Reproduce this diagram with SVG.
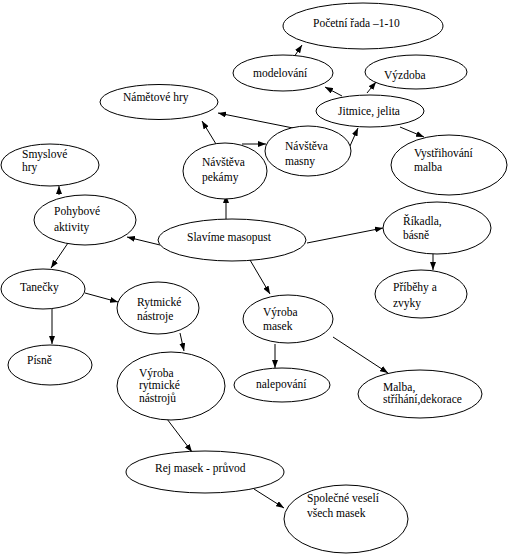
<svg xmlns="http://www.w3.org/2000/svg" width="508" height="555" viewBox="0 0 508 555" font-family="Liberation Serif" font-size="11.5">
<style>
.n ellipse{fill:#fff;stroke:#000;stroke-width:1}
text{font-family:'Liberation Serif','Times New Roman',serif;font-size:11.5px;fill:#000}
.c line{stroke:#000;stroke-width:1;marker-end:url(#ah)}
</style>
<defs>
<marker id="ah" markerWidth="8" markerHeight="6" refX="8" refY="3" orient="auto" markerUnits="userSpaceOnUse">
<path d="M0,0 L8,3 L0,6 z" fill="#000"/>
</marker>
</defs>
<rect width="508" height="555" fill="#fff"/>
<g class="c" id="connectors">
<line x1="294" y1="57" x2="302" y2="45"/>
<line x1="342" y1="96" x2="325" y2="87"/>
<line x1="367" y1="93" x2="376" y2="82"/>
<line x1="400" y1="127" x2="424" y2="137"/>
<line x1="350" y1="146" x2="358" y2="128"/>
<line x1="293" y1="128" x2="218" y2="113"/>
<line x1="242" y1="144" x2="266" y2="144"/>
<line x1="216" y1="144" x2="202" y2="121"/>
<line x1="226" y1="219" x2="226" y2="195"/>
<line x1="160" y1="245" x2="127" y2="237"/>
<line x1="59" y1="195" x2="59" y2="186"/>
<line x1="68" y1="243" x2="51" y2="268"/>
<line x1="250" y1="260" x2="270" y2="294"/>
<line x1="307" y1="243" x2="383" y2="228"/>
<line x1="433" y1="253" x2="433" y2="270"/>
<line x1="52" y1="309" x2="52" y2="344"/>
<line x1="85" y1="293" x2="118" y2="302"/>
<line x1="180" y1="333" x2="184" y2="351"/>
<line x1="275" y1="344" x2="275" y2="368"/>
<line x1="333" y1="337" x2="388" y2="373"/>
<line x1="167" y1="419" x2="192" y2="452"/>
<line x1="254" y1="489" x2="284" y2="508"/>
</g>
<g class="n" id="pocetni"><ellipse cx="363" cy="26" rx="80" ry="23"/><text x="313" y="27">Početní řada –1-10</text></g>
<g class="n" id="modelovani"><ellipse cx="283" cy="73" rx="50" ry="18"/><text x="253" y="77">modelování</text></g>
<g class="n" id="vyzdoba"><ellipse cx="416" cy="72" rx="51" ry="17"/><text x="384" y="79">Výzdoba</text></g>
<g class="n" id="jitmice"><ellipse cx="370" cy="111" rx="54" ry="16"/><text x="338" y="115">Jitmice, jelita</text></g>
<g class="n" id="namety"><ellipse cx="159" cy="102" rx="59" ry="17.5"/><text x="123" y="101">Námětové hry</text></g>
<g class="n" id="masny"><ellipse cx="308" cy="151" rx="43" ry="25"/><text x="285" y="150">Návštěva</text><text x="285" y="165">masny</text></g>
<g class="n" id="vystrihovani"><ellipse cx="449" cy="165" rx="58" ry="30"/><text x="414" y="157">Vystřihování</text><text x="414" y="171">malba</text></g>
<g class="n" id="pekarny"><ellipse cx="225" cy="171" rx="42" ry="28"/><text x="202" y="166">Návštěva</text><text x="202" y="181">pekámy</text></g>
<g class="n" id="smyslove"><ellipse cx="50" cy="165" rx="49" ry="21"/><text x="22" y="158">Smyslové</text><text x="22" y="171">hry</text></g>
<g class="n" id="pohybove"><ellipse cx="85" cy="220" rx="51" ry="25"/><text x="54" y="215">Pohybové</text><text x="54" y="231">aktivity</text></g>
<g class="n" id="slavime"><ellipse cx="232" cy="240" rx="74" ry="21"/><text x="187" y="241">Slavíme masopust</text></g>
<g class="n" id="rikadla"><ellipse cx="437" cy="228" rx="54" ry="26"/><text x="403" y="225">Říkadla,</text><text x="403" y="239">básně</text></g>
<g class="n" id="pribehy"><ellipse cx="421" cy="294" rx="46" ry="24"/><text x="393" y="291">Příběhy a</text><text x="393" y="307">zvyky</text></g>
<g class="n" id="tanecky"><ellipse cx="43" cy="289" rx="42" ry="20"/><text x="20" y="291">Tanečky</text></g>
<g class="n" id="rytmicke"><ellipse cx="158" cy="308" rx="41" ry="26"/><text x="137" y="306">Rytmické</text><text x="137" y="320">nástroje</text></g>
<g class="n" id="vyrobamasek"><ellipse cx="288" cy="319" rx="45" ry="24"/><text x="263" y="316">Výroba</text><text x="263" y="330">masek</text></g>
<g class="n" id="pisne"><ellipse cx="50" cy="365" rx="42" ry="20"/><text x="27" y="364">Písně</text></g>
<g class="n" id="vyrobarytm"><ellipse cx="171" cy="386" rx="54" ry="34"/><text x="139" y="377">Výroba</text><text x="139" y="389">rytmické</text><text x="139" y="402">nástrojů</text></g>
<g class="n" id="nalepovani"><ellipse cx="282" cy="385" rx="48" ry="17"/><text x="256" y="388">nalepování</text></g>
<g class="n" id="malba"><ellipse cx="420" cy="394" rx="62" ry="24"/><text x="383" y="391">Malba,</text><text x="383" y="403">stříhání,dekorace</text></g>
<g class="n" id="rej"><ellipse cx="205" cy="472" rx="79" ry="21"/><text x="155" y="472">Rej masek - průvod</text></g>
<g class="n" id="spolecne"><ellipse cx="346" cy="519" rx="62" ry="34"/><text x="307" y="502">Společné veselí</text><text x="307" y="517">všech masek</text></g>
</svg>
